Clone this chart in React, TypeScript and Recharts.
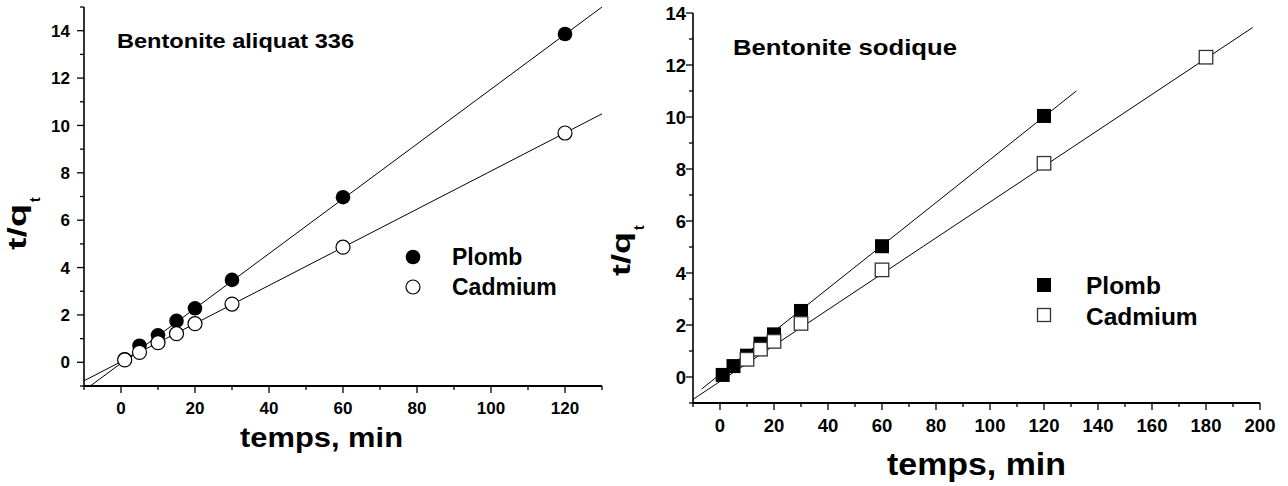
import React from 'react';
import { ComposedChart, Scatter, XAxis, YAxis, ReferenceLine, Legend, Label } from 'recharts';

// Bentonite aliquat 336 (left panel)
const leftTimes = [1, 5, 10, 15, 20, 30, 60, 120];
const leftPlomb = [0.13, 0.7, 1.14, 1.75, 2.28, 3.48, 6.97, 13.86];
const leftCadmium = [0.1, 0.42, 0.83, 1.21, 1.63, 2.46, 4.86, 9.68];

// Bentonite sodique (right panel)
const rightPlombTimes = [1, 5, 10, 15, 20, 30, 60, 120];
const rightPlomb = [0.08, 0.42, 0.82, 1.28, 1.64, 2.54, 5.03, 10.04];
const rightCadmiumTimes = [10, 15, 20, 30, 60, 120, 180];
const rightCadmium = [0.68, 1.07, 1.37, 2.06, 4.12, 8.22, 12.3];

// linear fits: [slope, intercept, xFrom, xTo]
const leftPlombFit = [0.1157, -0.04, -10, 130];
const leftCadmiumFit = [0.0805, 0.025, -10, 130];
const rightPlombFit = [0.0826, 0.1, -6.8, 132];
const rightCadmiumFit = [0.069, -0.17, -10, 197.3];

const leftXTicks = [-10, 0, 10, 20, 30, 40, 50, 60, 70, 80, 90, 100, 110, 120, 130];
const leftYTicks = [-1, 0, 1, 2, 3, 4, 5, 6, 7, 8, 9, 10, 11, 12, 13, 14, 15];
const rightXTicks = [-10, 0, 10, 20, 30, 40, 50, 60, 70, 80, 90, 100, 110, 120, 130, 140, 150, 160, 170, 180, 190, 200];
const rightYTicks = [-1, 0, 1, 2, 3, 4, 5, 6, 7, 8, 9, 10, 11, 12, 13, 14];

const seriesNames = ['Plomb', 'Cadmium'];

const FONT = '"Liberation Sans", Arial, sans-serif';

const pts = (xs: number[], ys: number[]) => xs.map((x, i) => ({ x, y: ys[i] }));
const seg = (f: number[]) => [
  { x: f[2], y: f[0] * f[2] + f[1] },
  { x: f[3], y: f[0] * f[3] + f[1] },
];

const makeXTick = (step: number, fs: number, dy: number) => (p: any) => {
  const v = p.payload.value;
  const major = v % step === 0;
  return (
    <g>
      <line x1={p.x} x2={p.x} y1={p.y} y2={p.y + (major ? 7 : 4)} stroke="#000" strokeWidth={1.3} />
      {major && (
        <text x={p.x} y={p.y + dy} textAnchor="middle" fontSize={fs} fontWeight="bold" fontFamily={FONT} fill="#000">
          {v}
        </text>
      )}
    </g>
  );
};

const makeYTick = (fs: number, dx: number) => (p: any) => {
  const v = p.payload.value;
  const major = v % 2 === 0;
  return (
    <g>
      <line x1={p.x} x2={p.x - (major ? 7 : 4)} y1={p.y} y2={p.y} stroke="#000" strokeWidth={1.3} />
      {major && (
        <text x={p.x - dx} y={p.y + fs * 0.36} textAnchor="end" fontSize={fs} fontWeight="bold" fontFamily={FONT} fill="#000">
          {v}
        </text>
      )}
    </g>
  );
};

const boldText = (x: number, y: number, fs: number, s: string, len?: number, rot?: boolean) => (
  <text
    transform={`translate(${x},${y})${rot ? ' rotate(-90)' : ''}`}
    fontSize={fs}
    fontWeight="bold"
    fontFamily={FONT}
    fill="#000"
    textLength={len}
    lengthAdjust={len ? 'spacingAndGlyphs' : undefined}
  >
    {s}
  </text>
);

const LeftLegend = () => (
  <svg width={200} height={70}>
    <circle cx={13} cy={17} r={7.3} fill="#000" />
    <circle cx={13} cy={47} r={7} fill="#fff" stroke="#000" strokeWidth={1.2} />
    {boldText(52, 25, 23, seriesNames[0])}
    {boldText(52, 55, 23, seriesNames[1])}
  </svg>
);

const RightLegend = () => (
  <svg width={200} height={75}>
    <rect x={7} y={13} width={14} height={14} fill="#000" />
    <rect x={7.5} y={43.5} width={13} height={13} fill="#fff" stroke="#333" strokeWidth={1.3} />
    {boldText(56, 29, 24.5, seriesNames[0])}
    {boldText(56, 60, 24.5, seriesNames[1])}
  </svg>
);

const LeftChart = () => (
  <ComposedChart width={640} height={486} margin={{ top: 7, right: 38, left: 0, bottom: 0 }}>
    <XAxis
      type="number"
      dataKey="x"
      domain={[-10, 130]}
      ticks={leftXTicks}
      interval={0}
      allowDataOverflow
      height={100}
      tickLine={false}
      tickSize={0}
      tickMargin={0}
      tick={makeXTick(20, 17, 28)}
      axisLine={{ stroke: '#000', strokeWidth: 2 }}
    >
      <Label
        content={() => (
          <g>
            {boldText(240, 447, 28, 'temps, min', 163)}
            {boldText(117, 48, 21, 'Bentonite aliquat 336', 237)}
            {boldText(26, 250, 25, 't/q', 46, true)}
            {boldText(40, 202, 14, 't', undefined, true)}
          </g>
        )}
      />
    </XAxis>
    <XAxis xAxisId="top" orientation="top" type="number" domain={[-10, 130]} height={0} tick={false} tickLine={false} axisLine={{ stroke: '#000', strokeWidth: 1.2 }} />
    <YAxis
      type="number"
      dataKey="y"
      domain={[-1, 15]}
      ticks={leftYTicks}
      interval={0}
      allowDataOverflow
      width={84}
      tickLine={false}
      tickSize={0}
      tickMargin={0}
      tick={makeYTick(17, 14)}
      axisLine={{ stroke: '#000', strokeWidth: 1.6 }}
    />
    <YAxis yAxisId="right" orientation="right" type="number" domain={[-1, 15]} width={0} tick={false} tickLine={false} axisLine={{ stroke: '#000', strokeWidth: 1.2 }} />
    <Legend
      layout="vertical"
      align="center"
      verticalAlign="middle"
      content={() => <LeftLegend />}
      wrapperStyle={{ left: 400, top: 240, width: 200, height: 70 }}
    />
    <Scatter
      name={seriesNames[0]}
      data={pts(leftTimes, leftPlomb)}
      isAnimationActive={false}
      shape={(p: any) => <circle cx={p.cx} cy={p.cy} r={7.3} fill="#000" />}
    />
    <Scatter
      name={seriesNames[1]}
      data={pts(leftTimes, leftCadmium)}
      isAnimationActive={false}
      shape={(p: any) => <circle cx={p.cx} cy={p.cy} r={7} fill="#fff" stroke="#000" strokeWidth={1.2} />}
    />
    <ReferenceLine segment={seg(leftPlombFit)} stroke="#000" strokeWidth={1} ifOverflow="hidden" />
    <ReferenceLine segment={seg(leftCadmiumFit)} stroke="#000" strokeWidth={1} ifOverflow="hidden" />
  </ComposedChart>
);

const RightChart = () => (
  <ComposedChart width={688} height={486} margin={{ top: 13, right: 28, left: 0, bottom: 0 }}>
    <XAxis
      type="number"
      dataKey="x"
      domain={[-10, 200]}
      ticks={rightXTicks}
      interval={0}
      allowDataOverflow
      height={83}
      tickLine={false}
      tickSize={0}
      tickMargin={0}
      tick={makeXTick(20, 18.5, 29)}
      axisLine={{ stroke: '#000', strokeWidth: 2 }}
    >
      <Label
        content={() => (
          <g>
            {boldText(287, 475, 31, 'temps, min', 179)}
            {boldText(133, 55, 22, 'Bentonite sodique', 224)}
            {boldText(30, 276, 25, 't/q', 44, true)}
            {boldText(44, 230, 14, 't', undefined, true)}
          </g>
        )}
      />
    </XAxis>
    <XAxis xAxisId="top" orientation="top" type="number" domain={[-10, 200]} height={0} tick={false} tickLine={false} axisLine={{ stroke: '#000', strokeWidth: 1.2 }} />
    <YAxis
      type="number"
      dataKey="y"
      domain={[-1, 14]}
      ticks={rightYTicks}
      interval={0}
      allowDataOverflow
      width={93}
      tickLine={false}
      tickSize={0}
      tickMargin={0}
      tick={makeYTick(18.5, 7)}
      axisLine={{ stroke: '#000', strokeWidth: 1.6 }}
    />
    <YAxis yAxisId="right" orientation="right" type="number" domain={[-1, 14]} width={0} tick={false} tickLine={false} axisLine={{ stroke: '#777', strokeWidth: 1.6 }} />
    <Legend
      layout="vertical"
      align="center"
      verticalAlign="middle"
      content={() => <RightLegend />}
      wrapperStyle={{ left: 430, top: 265, width: 200, height: 75 }}
    />
    <Scatter
      name={seriesNames[0]}
      data={pts(rightPlombTimes, rightPlomb)}
      isAnimationActive={false}
      shape={(p: any) => <rect x={p.cx - 7} y={p.cy - 7} width={14} height={14} fill="#000" />}
    />
    <Scatter
      name={seriesNames[1]}
      data={pts(rightCadmiumTimes, rightCadmium)}
      isAnimationActive={false}
      shape={(p: any) => (
        <rect x={p.cx - 6.75} y={p.cy - 6.75} width={13.5} height={13.5} fill="#fff" stroke="#333" strokeWidth={1.3} />
      )}
    />
    <ReferenceLine segment={seg(rightPlombFit)} stroke="#000" strokeWidth={1} ifOverflow="hidden" />
    <ReferenceLine segment={seg(rightCadmiumFit)} stroke="#000" strokeWidth={1} ifOverflow="hidden" />
  </ComposedChart>
);

export default function App() {
  return (
    <div style={{ position: 'absolute', left: 0, top: 0, width: 1288, height: 486, background: '#fff', fontFamily: FONT }}>
      <div style={{ position: 'absolute', left: 0, top: 0 }}>
        <LeftChart />
      </div>
      <div style={{ position: 'absolute', left: 600, top: 0 }}>
        <RightChart />
      </div>
    </div>
  );
}
